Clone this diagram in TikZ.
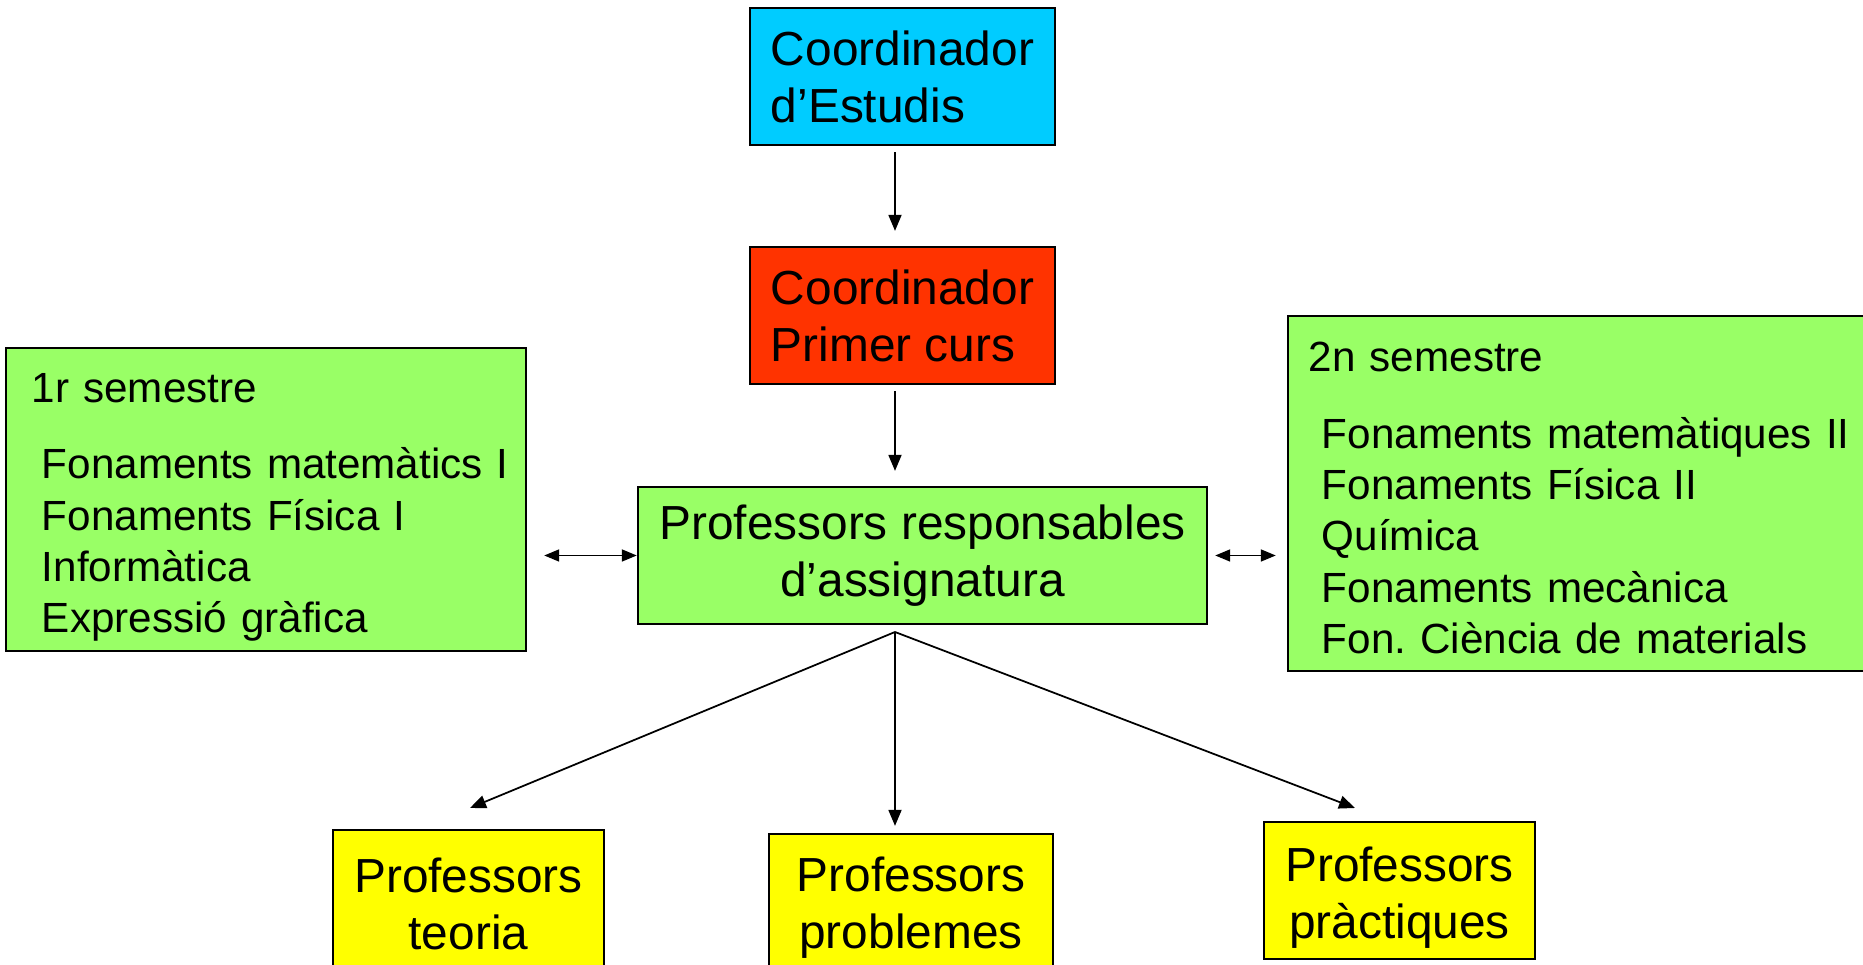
\documentclass[tikz,border=0pt]{standalone}
\usepackage{fontspec}
\setmainfont{Liberation Sans}
\usetikzlibrary{positioning,arrows.meta,calc}

\definecolor{cyanbox}{HTML}{00CCFF}
\definecolor{redbox}{HTML}{FF3300}
\definecolor{greenbox}{HTML}{99FF66}
\definecolor{yellowbox}{HTML}{FFFF00}

\tikzset{
  caixa/.style={draw, rectangle, line width=0.6pt, inner sep=0pt, align=center,
    font=\fontsize{13.6}{16.2}\selectfont},
  llista/.style={draw, rectangle, fill=greenbox, line width=0.6pt, inner sep=0pt,
    align=left, font=\fontsize{12}{14.6}\selectfont},
  fletxa/.style={-{Triangle[length=0.16cm,width=0.13cm]}, line width=0.5pt},
  doble/.style={{Triangle[length=0.15cm,width=0.12cm]}-{Triangle[length=0.15cm,width=0.12cm]}, line width=0.5pt}
}
\frenchspacing

\begin{document}
\begin{tikzpicture}[x=0.01cm, y=-0.01cm]
    \useasboundingbox (0,0) rectangle (1863,965);
    \clip (0,0) rectangle (1863,965);

    % coordinadors
    \node[caixa, fill=cyanbox, align=left, minimum width=3.05cm,
    minimum height=1.37cm] (estudis) at (902.5,76.5) {Coordinador\\d’Estudis};
    \node[caixa, fill=redbox, align=left, minimum width=3.05cm,
    minimum height=1.37cm] (primer) at (902.5,315.5) {Coordinador\\Primer curs};
    \node[caixa, fill=greenbox, minimum width=5.69cm,
    minimum height=1.37cm] (resp) at (922.5,555.5) {Professors responsables\\d’assignatura};

    % semestres
    \node[llista, minimum height=3.03cm, text width=5.2cm] (sem1) at (266,499.5)
    {\rule{0pt}{0.45cm}\hspace*{0.26cm}1r semestre\\[0.25cm]
     \hspace*{0.36cm}Fonaments matemàtics I\\
     \hspace*{0.36cm}Fonaments Física I\\
     \hspace*{0.36cm}Informàtica\\
     \hspace*{0.36cm}Expressió gràfica};
    \node[llista, minimum height=3.55cm, text width=5.82cm] (sem2) at (1579,493.5)
    {\rule{0pt}{0.39cm}\hspace*{0.21cm}2n semestre\\[0.25cm]
     \hspace*{0.34cm}Fonaments matemàtiques II\\
     \hspace*{0.34cm}Fonaments Física II\\
     \hspace*{0.34cm}Química\\
     \hspace*{0.34cm}Fonaments mecànica\\
     \hspace*{0.34cm}Fon. Ciència de materials};

    % professors
    \node[caixa, fill=yellowbox, minimum width=2.71cm,
    minimum height=1.48cm] (teoria) at (468.5,904) {Professors\\teoria};
    \node[caixa, fill=yellowbox, minimum width=2.84cm,
    minimum height=1.48cm] (problemes) at (911,908) {Professors\\problemes};
    \node[caixa, fill=yellowbox, text width=2.71cm,
    minimum height=1.37cm] (practiques) at (1399.5,890.5)
    {\rule{0pt}{0.49cm}Professors\\pràctiques};

    % fletxes
    \draw[fletxa, shorten <=0.06cm, shorten >=0.15cm]
        ([xshift=-0.075cm]estudis.south) -- ([xshift=-0.075cm]primer.north);
    \draw[fletxa, shorten <=0.06cm, shorten >=0.15cm]
        ([xshift=-0.075cm]primer.south) -- ([xshift=-0.075cm]primer.south |- resp.north);
    \draw[doble, shorten <=0.17cm] (sem1.east |- resp.west) -- (resp.west);
    \draw[doble, shorten <=0.07cm, shorten >=0.11cm] (resp.east) -- (resp.east -| sem2.west);

    \coordinate (vertex) at (895,632);
    \coordinate (puntaT) at (470,808);
    \coordinate (puntaP) at (1355,808);
    \draw[fletxa] (vertex) -- (puntaT);
    \draw[fletxa, shorten >=0.07cm] (vertex) -- (vertex |- problemes.north);
    \draw[fletxa] (vertex) -- (puntaP);
\end{tikzpicture}
\end{document}
